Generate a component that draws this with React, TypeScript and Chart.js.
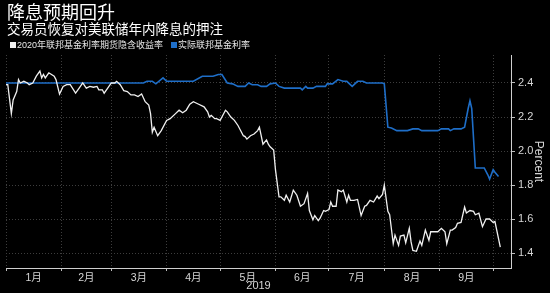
import React, { useEffect, useRef } from "react";
import { Chart, registerables } from "chart.js";
Chart.register(...registerables);

const titleText = "降息预期回升";
const subtitleText = "交易员恢复对美联储年内降息的押注";
const seriesNames = ["2020年联邦基金利率期货隐含收益率", "实际联邦基金利率"];
const seriesColors = ["#f0f0f0", "#1e6ec8"];
const yearLabel = "2019";
const yAxisTitle = "Percent";
const yTicks = [1.4, 1.6, 1.8, 2.0, 2.2, 2.4];
// day-of-year (0 = Jan 1) where each month starts
const monthStarts = [0, 31, 59, 90, 120, 151, 181, 212, 243, 273];
const monthLabels = ["1月", "2月", "3月", "4月", "5月", "6月", "7月", "8月", "9月"];

// 2020 fed funds futures implied yield
const futuresDays = [0,1,3,4,6,7,8,10,12,13,15,17,19,20,21,22,24,27,28,30,32,34,36,39,41,43,45,47,49,51,52,54,55,57,59,61,62,64,66,68,70,72,74,76,78,80,81,82,83,85,87,90,92,95,97,99,101,103,105,108,111,113,114,115,117,118,120,121,123,124,126,128,130,133,134,135,137,139,141,142,143,144,146,147,148,150,151,153,154,156,157,159,161,163,165,167,169,170,172,173,175,176,178,179,181,182,183,185,186,188,189,191,192,193,195,197,199,201,202,204,206,208,209,211,212,214,215,217,218,220,221,223,224,226,227,228,230,232,233,235,237,238,240,242,244,246,247,249,250,252,253,255,257,258,260,262,263,265,267,269,271,273,274,277];
const futuresVals = [2.39,2.39,2.22,2.30,2.35,2.42,2.40,2.41,2.40,2.39,2.40,2.44,2.47,2.43,2.45,2.43,2.46,2.44,2.42,2.335,2.38,2.39,2.39,2.34,2.37,2.40,2.37,2.38,2.375,2.38,2.36,2.36,2.34,2.37,2.40,2.40,2.41,2.39,2.355,2.35,2.33,2.33,2.32,2.335,2.29,2.27,2.22,2.11,2.14,2.09,2.12,2.18,2.19,2.22,2.24,2.225,2.24,2.275,2.29,2.275,2.26,2.23,2.20,2.21,2.19,2.19,2.18,2.20,2.24,2.23,2.20,2.18,2.15,2.09,2.085,2.07,2.09,2.10,2.12,2.14,2.09,2.04,2.065,2.04,2.025,2.005,1.89,1.73,1.73,1.71,1.74,1.70,1.77,1.74,1.675,1.69,1.75,1.65,1.595,1.62,1.59,1.605,1.65,1.645,1.655,1.70,1.675,1.675,1.77,1.76,1.77,1.70,1.74,1.71,1.71,1.715,1.62,1.675,1.68,1.71,1.70,1.735,1.72,1.745,1.80,1.645,1.625,1.455,1.505,1.445,1.50,1.505,1.46,1.545,1.465,1.415,1.41,1.47,1.445,1.535,1.475,1.525,1.525,1.525,1.545,1.525,1.455,1.535,1.535,1.55,1.575,1.58,1.67,1.635,1.65,1.645,1.625,1.635,1.555,1.60,1.60,1.58,1.585,1.435];

// effective fed funds rate
const effDays = [0,77,79,82,84,88,90,105,110,116,119,121,124,127,130,134,136,138,141,143,146,148,151,153,156,165,166,168,169,172,174,179,180,183,186,189,191,194,197,200,202,211,212,214,216,219,225,228,231,233,242,244,248,249,251,255,257,259,260,261,263,268,270,271,273,274,276];
const effVals = [2.40,2.40,2.41,2.41,2.395,2.43,2.41,2.41,2.44,2.44,2.45,2.45,2.40,2.395,2.38,2.38,2.40,2.39,2.39,2.38,2.38,2.395,2.40,2.38,2.37,2.37,2.36,2.38,2.37,2.37,2.38,2.38,2.395,2.395,2.42,2.41,2.41,2.38,2.41,2.41,2.40,2.40,2.395,2.14,2.135,2.12,2.12,2.13,2.13,2.12,2.12,2.13,2.13,2.12,2.13,2.13,2.14,2.25,2.295,2.25,1.90,1.90,1.86,1.835,1.89,1.875,1.85];

const X_MIN = 0;
const X_MAX = 283;
const Y_MIN = 1.3118;
const Y_MAX = 2.5647;

const FONT = '"Liberation Sans", "Noto Sans CJK SC", sans-serif';
const CJK = '"Noto Sans CJK SC", sans-serif';

export default function App() {
  const ref = useRef<HTMLCanvasElement | null>(null);

  useEffect(() => {
    if (!ref.current) return;
    const mids = monthLabels.map((_, i) => (monthStarts[i] + monthStarts[i + 1]) / 2);
    const xTickValues = [...monthStarts, ...mids].sort((a, b) => a - b);
    const isStart = (v: any) => monthStarts.includes(v);
    const gridColor = "#3d3d3d";
    const tickCol = "#bdbdbd";
    const labelCol = "#d6d6d6";

    const chart = new Chart(ref.current, {
      type: "line",
      data: {
        datasets: [
          {
            label: seriesNames[0],
            data: futuresDays.map((d, i) => ({ x: d, y: futuresVals[i] })),
            borderColor: seriesColors[0],
            backgroundColor: seriesColors[0],
            borderWidth: 1.3,
            pointRadius: 0,
            tension: 0,
          },
          {
            label: seriesNames[1],
            data: effDays.map((d, i) => ({ x: d, y: effVals[i] })),
            borderColor: seriesColors[1],
            backgroundColor: seriesColors[1],
            borderWidth: 1.6,
            pointRadius: 0,
            tension: 0,
          },
        ],
      },
      options: {
        responsive: false,
        animation: false,
        layout: { padding: { left: 6, top: 55, right: 0, bottom: 0 } },
        plugins: { legend: { display: false }, title: { display: false }, tooltip: { enabled: false } },
        scales: {
          x: {
            type: "linear",
            position: "bottom",
            min: X_MIN,
            max: X_MAX,
            afterBuildTicks: (s: any) => {
              s.ticks = xTickValues.map((v) => ({ value: v }));
            },
            afterFit: (s: any) => {
              s.height = 25;
            },
            grid: {
              color: (c: any) => (isStart(c.tick?.value) ? gridColor : "rgba(0,0,0,0)"),
              tickColor: (c: any) => (isStart(c.tick?.value) ? tickCol : "rgba(0,0,0,0)"),
              tickLength: 3,
              lineWidth: 1,
            },
            border: { color: "#cfcfcf", width: 1, dash: [1, 2] },
            ticks: {
              autoSkip: false,
              maxRotation: 0,
              minRotation: 0,
              color: labelCol,
              padding: 1,
              font: { size: 10.5, family: FONT },
              callback: (v: any) => {
                const i = mids.indexOf(v);
                return i >= 0 ? monthLabels[i] : "";
              },
            },
            title: {
              display: true,
              text: yearLabel,
              color: labelCol,
              font: { size: 11, family: FONT },
              padding: { top: 0, bottom: 0 },
            },
          },
          y: {
            type: "linear",
            position: "right",
            min: Y_MIN,
            max: Y_MAX,
            afterBuildTicks: (s: any) => {
              s.ticks = yTicks.map((v) => ({ value: v }));
            },
            afterFit: (s: any) => {
              s.width = 39;
            },
            grid: { color: gridColor, tickColor: tickCol, tickLength: 4, lineWidth: 1 },
            border: { color: "#cfcfcf", width: 1, dash: [1, 2] },
            ticks: {
              color: labelCol,
              padding: 3,
              font: { size: 11, family: FONT },
              callback: (v: any) => Number(v).toFixed(1),
            },
            title: {
              display: true,
              text: yAxisTitle,
              color: labelCol,
              font: { size: 12, family: FONT },
              padding: { top: 4, bottom: 0 },
            },
          },
        },
      },
    });
    return () => chart.destroy();
  }, []);

  return (
    <div style={{ position: "fixed", left: 0, top: 0, width: 550, height: 293, background: "#000", overflow: "hidden" }}>
      <canvas ref={ref} width={550} height={293} style={{ position: "absolute", left: 0, top: 0 }} />
      <div style={{ position: "absolute", left: 7, top: 1, fontFamily: CJK, fontSize: 18, lineHeight: "20px", color: "#fff", whiteSpace: "nowrap" }}>
        {titleText}
      </div>
      <div style={{ position: "absolute", left: 7, top: 20, fontFamily: CJK, fontSize: 13.5, lineHeight: "16px", color: "#fff", whiteSpace: "nowrap" }}>
        {subtitleText}
      </div>
      <div style={{ position: "absolute", left: 10, top: 38, display: "flex", alignItems: "center", fontFamily: FONT, fontSize: 9, lineHeight: "14px", color: "#e6e6e6", whiteSpace: "nowrap" }}>
        {seriesNames.map((n, i) => (
          <div key={n} style={{ display: "flex", alignItems: "center", marginRight: 8 }}>
            <span style={{ display: "inline-block", width: 6, height: 6, background: seriesColors[i], marginRight: 1 }} />
            <span>{n}</span>
          </div>
        ))}
      </div>
    </div>
  );
}
